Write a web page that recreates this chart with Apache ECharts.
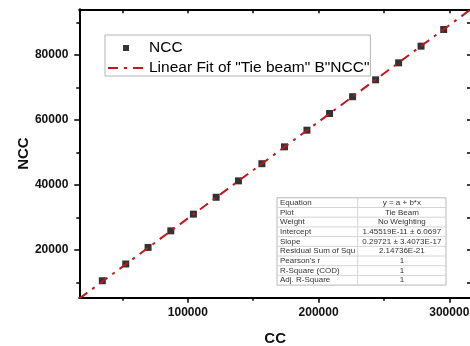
<!DOCTYPE html>
<html><head><meta charset="utf-8">
<script src="https://cdn.jsdelivr.net/npm/echarts@6/dist/echarts.min.js"></script>
<style>html,body{margin:0;padding:0;background:#fff}#c{width:470px;height:346px}</style>
</head><body><div id="c"></div>
<script>
// ---- data ----
const ccValues  = [34610, 52530, 69600, 86980, 104290, 121670, 138740, 156660, 173970, 191120, 208420, 226030, 243640, 261250, 278400, 295710];
const nccValues = [10550, 15700, 20800, 25900, 31040, 36230, 41280, 46560, 51750, 56860, 62000, 67170, 72360, 77590, 82710, 87840];
const xTickLabels = [100000, 200000, 300000];
const xMinorTicks = [50000, 150000, 250000];
const yTickLabels = [20000, 40000, 60000, 80000];
const yMinorTicks = [10000, 30000, 50000, 70000, 90000];
const fitIntercept = 1.45519e-11;
const fitSlope = 0.29721;
const seriesName = 'NCC';
const fitName = 'Linear Fit of "Tie beam" B"NCC"';
const tableLabels = ['Equation', 'Plot', 'Weight', 'Intercept', 'Slope', 'Residual Sum of Squ', "Pearson's r", 'R-Square (COD)', 'Adj. R-Square'];
const tableValues = ['y = a + b*x', 'Tie Beam', 'No Weighting', '1.45519E-11 \u00b1 6.0697', '0.29721 \u00b1 3.4073E-17', '2.14736E-21', '1', '1', '1'];

// ---- axis ranges ----
const xMin = 17000, xMax = 316600, yMin = 5300, yMax = 94060;
const allXTicks = xTickLabels.concat(xMinorTicks).sort((a, b) => a - b);
const allYTicks = yTickLabels.concat(yMinorTicks).sort((a, b) => a - b);

const FONT = 'Liberation Sans, Arial, sans-serif';
const scatterData = ccValues.map((x, i) => [x, nccValues[i]]);
const fitData = [[xMin, fitIntercept + fitSlope * xMin], [xMax, fitIntercept + fitSlope * xMax]];

// ---- stats table graphic ----
const tX = 277, tY = 197.8, tW = 169, rowH = 9.7, colX = 357.7;
const tableEls = [];
tableEls.push({type: 'rect', shape: {x: tX, y: tY, width: tW, height: rowH * tableLabels.length},
  style: {fill: '#fff', stroke: '#b8b8b8', lineWidth: 1}, z: 10});
for (let i = 1; i < tableLabels.length; i++) {
  tableEls.push({type: 'line', shape: {x1: tX, y1: tY + rowH * i, x2: tX + tW, y2: tY + rowH * i},
    style: {stroke: '#d4d4d4', lineWidth: 1}, z: 11});
}
tableEls.push({type: 'line', shape: {x1: colX, y1: tY, x2: colX, y2: tY + rowH * tableLabels.length},
  style: {stroke: '#d4d4d4', lineWidth: 1}, z: 11});
tableLabels.forEach((t, i) => {
  tableEls.push({type: 'text', x: tX + 3, y: tY + rowH * i + rowH / 2, z: 12,
    style: {text: t, font: '8px ' + FONT, fill: '#333', verticalAlign: 'middle', align: 'left'}});
  tableEls.push({type: 'text', x: (colX + tX + tW) / 2, y: tY + rowH * i + rowH / 2, z: 12,
    style: {text: tableValues[i], font: '8px ' + FONT, fill: '#333', verticalAlign: 'middle', align: 'center'}});
});

const chart = echarts.init(document.getElementById('c'), null, {renderer: 'canvas'});
const axisLineStyle = {show: true, lineStyle: {color: '#000', width: 2}};
const plain = v => String(Math.round(v));
const labelStyle = {fontFamily: FONT, fontWeight: 'bold', fontSize: 12, color: '#111', formatter: plain};

chart.setOption({
  animation: false,
  backgroundColor: '#fff',
  grid: {left: 79.3, top: 9.3, width: 391.7, height: 288.5, containLabel: false, outerBoundsMode: 'none'},
  legend: {
    orient: 'vertical', left: 105, top: 35,
    backgroundColor: '#fff', borderColor: '#b4b4b4', borderWidth: 1,
    padding: [5, 1, 0, 2], itemGap: 4, itemWidth: 36, itemHeight: 14,
    textStyle: {fontFamily: FONT, fontSize: 15.5, color: '#000'},
    data: [
      {name: seriesName, icon: 'path://M0,0M36,14M15,4h6v6h-6z'},
      {name: fitName, itemStyle: {color: 'rgba(0,0,0,0)', borderWidth: 0, opacity: 0}}
    ]
  },
  xAxis: [
    {type: 'value', position: 'bottom', min: xMin, max: xMax,
     name: 'CC', nameLocation: 'middle', nameGap: 34, nameMoveOverlap: false,
     nameTextStyle: {fontFamily: FONT, fontWeight: 'bold', fontSize: 15, color: '#111'},
     axisLine: axisLineStyle, splitLine: {show: false},
     axisTick: {show: true, length: 5, customValues: xTickLabels, lineStyle: {color: '#000', width: 1.5}},
     axisLabel: Object.assign({margin: 9, customValues: xTickLabels}, labelStyle)},
    {type: 'value', position: 'bottom', min: xMin, max: xMax,
     axisLine: {show: false}, splitLine: {show: false},
     axisTick: {show: true, length: 3, customValues: xMinorTicks, lineStyle: {color: '#000', width: 1.5}},
     axisLabel: {show: false}},
    {type: 'value', position: 'top', min: xMin, max: xMax,
     axisLine: axisLineStyle, splitLine: {show: false},
     axisTick: {show: true, inside: true, length: 4, customValues: allXTicks, lineStyle: {color: '#000', width: 1.5}},
     axisLabel: {show: false}}
  ],
  yAxis: [
    {type: 'value', position: 'left', min: yMin, max: yMax,
     name: 'NCC', nameLocation: 'middle', nameGap: 48, nameMoveOverlap: false,
     nameTextStyle: {fontFamily: FONT, fontWeight: 'bold', fontSize: 15, color: '#111'},
     axisLine: axisLineStyle, splitLine: {show: false},
     axisTick: {show: true, length: 5, customValues: yTickLabels, lineStyle: {color: '#000', width: 1.5}},
     axisLabel: Object.assign({margin: 11, customValues: yTickLabels}, labelStyle)},
    {type: 'value', position: 'left', min: yMin, max: yMax,
     axisLine: {show: false}, splitLine: {show: false},
     axisTick: {show: true, length: 3, customValues: yMinorTicks, lineStyle: {color: '#000', width: 1.5}},
     axisLabel: {show: false}},
    {type: 'value', position: 'right', min: yMin, max: yMax,
     axisLine: axisLineStyle, splitLine: {show: false},
     axisTick: {show: true, inside: true, length: 4, customValues: allYTicks, lineStyle: {color: '#000', width: 1.5}},
     axisLabel: {show: false}}
  ],
  series: [
    {name: seriesName, type: 'scatter', xAxisIndex: 0, yAxisIndex: 0, data: scatterData,
     symbol: 'rect', symbolSize: 7, itemStyle: {color: '#000'}, z: 2},
    {name: fitName, type: 'line', xAxisIndex: 0, yAxisIndex: 0, data: fitData,
     symbol: 'none', showSymbol: false, clip: true,
     lineStyle: {color: '#c0171c', width: 2, type: [10, 6, 3, 6]},
     itemStyle: {color: '#c0171c'}, z: 3}
  ],
  graphic: [{type: 'group', children: tableEls}]
});
</script></body></html>
